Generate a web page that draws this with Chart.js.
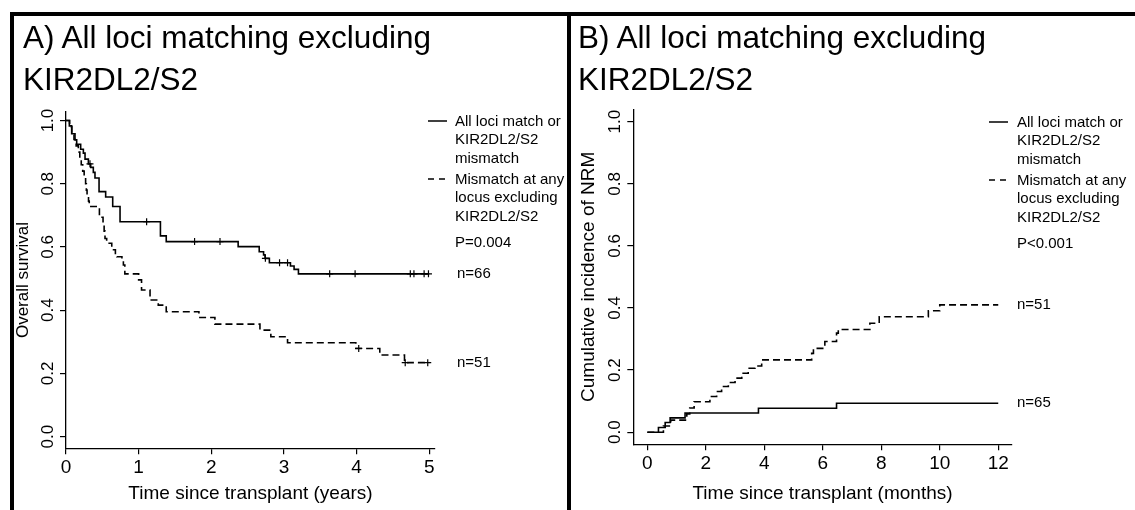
<!DOCTYPE html>
<html>
<head>
<meta charset="utf-8">
<script src="https://cdn.jsdelivr.net/npm/chart.js@4.4.0/dist/chart.umd.min.js"></script>
<style>
  body { margin: 0; background: #fff; width: 1135px; height: 510px; position: relative; overflow: hidden;
         font-family: "Liberation Sans", Arial, sans-serif; }
  .panel { position: absolute; top: 0; height: 510px; }
  #panelA { left: 0; width: 568px; }
  #panelB { left: 568px; width: 567px; }
  .title { position: absolute; font-size: 31.5px; line-height: 42px; color: #000; white-space: nowrap; }
  .rule { position: absolute; background: #000; }
</style>
</head>
<body>
<div class="panel" id="panelA"><canvas id="chartA" width="568" height="510"></canvas></div>
<div class="panel" id="panelB"><canvas id="chartB" width="567" height="510"></canvas></div>
<div class="rule" style="left:10px; top:12px; width:1125px; height:4px;"></div>
<div class="rule" style="left:10px; top:12px; width:4px; height:498px;"></div>
<div class="rule" style="left:567px; top:12px; width:4px; height:498px;"></div>
<div class="title" style="left:23px; top:16px;">A) All loci matching excluding<br>KIR2DL2/S2</div>
<div class="title" style="left:578px; top:16px;">B) All loci matching excluding<br>KIR2DL2/S2</div>
<script>
const FONT = '"Liberation Sans", Arial, sans-serif';

// tick labels
const yearTicks = [0, 1, 2, 3, 4, 5];
const monthTicks = [0, 2, 4, 6, 8, 10, 12];
const probTicks = [0, 0.2, 0.4, 0.6, 0.8, 1.0];

// A) overall survival, all loci match or KIR2DL2/S2 mismatch (n=66)
const osMatchTime = [0, 0.046, 0.078, 0.124, 0.147, 0.202, 0.239, 0.262, 0.308, 0.340, 0.376, 0.399, 0.455,
  0.546, 0.643, 0.744, 1.30, 1.38, 2.37, 2.66, 2.72, 2.74, 2.80, 3.09, 3.14, 3.20, 5.0];
const osMatchSurv = [1.0, 0.983, 0.958, 0.939, 0.925, 0.909, 0.897, 0.878, 0.863, 0.852, 0.836, 0.818, 0.775,
  0.758, 0.728, 0.680, 0.635, 0.617, 0.601, 0.585, 0.575, 0.564, 0.550, 0.540, 0.529, 0.515, 0.515];
const osMatchCensored = [0.33, 1.11, 1.77, 2.12, 2.745, 2.94, 3.05, 3.63, 3.98, 4.74, 4.79, 4.93, 4.99];

// A) overall survival, mismatch at any locus excluding KIR2DL2/S2 (n=51)
const osMisTime = [0, 0.05, 0.08, 0.11, 0.14, 0.17, 0.19, 0.21, 0.23, 0.25, 0.27, 0.28, 0.29, 0.31, 0.32,
  0.46, 0.51, 0.525, 0.537, 0.56, 0.63, 0.68, 0.70, 0.77, 0.79, 0.81, 1.0, 1.04, 1.157, 1.27, 1.38, 1.83,
  2.05, 2.67, 2.82, 3.05, 3.99, 4.32, 4.66, 5.0];
const osMisSurv = [1.0, 0.98, 0.96, 0.94, 0.92, 0.90, 0.88, 0.86, 0.84, 0.82, 0.80, 0.78, 0.76, 0.745, 0.728,
  0.694, 0.67, 0.65, 0.627, 0.612, 0.591, 0.575, 0.569, 0.559, 0.543, 0.515, 0.496, 0.464, 0.432, 0.416, 0.395, 0.377,
  0.356, 0.337, 0.316, 0.297, 0.279, 0.258, 0.234, 0.234];
const osMisCensored = [4.03, 4.67, 4.98];

// B) cumulative incidence of NRM (months)
const nrmMatchTime = [0, 0.38, 0.61, 0.78, 1.29, 3.80, 6.47, 12];
const nrmMatchInc = [0, 0.015, 0.031, 0.046, 0.062, 0.077, 0.093, 0.093];
const nrmMisTime = [0, 0.55, 0.8, 1.35, 1.45, 1.6, 2.14, 2.37, 2.54, 2.77, 3.0, 3.23, 3.45, 3.68, 3.91,
  5.62, 5.68, 6.07, 6.47, 6.53, 7.61, 7.93, 9.61, 10.0, 12];
const nrmMisInc = [0, 0.02, 0.039, 0.059, 0.078, 0.098, 0.115, 0.131, 0.147, 0.160, 0.174, 0.190, 0.206, 0.213, 0.233,
  0.254, 0.270, 0.292, 0.319, 0.331, 0.351, 0.372, 0.391, 0.410, 0.410];

const legendLines = [
  ["All loci match or", "KIR2DL2/S2", "mismatch"],
  ["Mismatch at any", "locus excluding", "KIR2DL2/S2"]
];

function pairs(xs, ys) {
  return xs.map((x, i) => ({ x: x, y: ys[i] }));
}

// value of a step curve at time t
function stepAt(xs, ys, t) {
  let v = ys[0];
  for (let i = 0; i < xs.length; i++) if (xs[i] <= t) v = ys[i];
  return v;
}

function censorPoints(xs, ys, times) {
  return times.map(t => ({ x: t, y: stepAt(xs, ys, t) }));
}

// legend, p value and n labels drawn next to the plot
const notesPlugin = {
  id: 'notes',
  afterDraw(chart, args, o) {
    const ctx = chart.ctx;
    const ys = chart.scales.y;
    ctx.save();
    ctx.fillStyle = '#000';
    ctx.strokeStyle = '#000';
    ctx.lineWidth = 1.5;
    ctx.font = '15px ' + FONT;
    ctx.textBaseline = 'middle';
    ctx.textAlign = 'left';
    [o.top, o.top + 58].forEach((y0, k) => {
      ctx.setLineDash(k === 0 ? [] : [6, 5]);
      ctx.beginPath();
      ctx.moveTo(o.sampleX, y0);
      ctx.lineTo(o.sampleX + 19, y0);
      ctx.stroke();
      legendLines[k].forEach((s, j) => ctx.fillText(s, o.textX, y0 + 1 + j * 18.3));
    });
    ctx.fillText(o.p, o.textX, o.top + 122);
    o.n.forEach(item => ctx.fillText(item.label, o.nX, ys.getPixelForValue(item.value)));
    ctx.restore();
  }
};

function axisX(ticks, min, max, title, height) {
  return {
    type: 'linear', min: min, max: max,
    afterBuildTicks: s => { s.ticks = ticks.map(v => ({ value: v })); },
    afterFit: s => { s.height = height; },
    ticks: { color: '#000', font: { family: FONT, size: 19 }, padding: 2, maxRotation: 0, autoSkip: false },
    grid: { drawOnChartArea: false, drawTicks: true, tickLength: 6, color: '#000', lineWidth: 1.2 },
    border: { display: true, color: '#000', width: 1.3 },
    title: { display: true, text: title, color: '#000', font: { family: FONT, size: 19 }, padding: { top: 0, bottom: 5 } }
  };
}

function axisY(min, max, title, titleSize, width) {
  return {
    type: 'linear', min: min, max: max,
    afterBuildTicks: s => { s.ticks = probTicks.map(v => ({ value: v })); },
    afterFit: s => { s.width = width; },
    ticks: { color: '#000', font: { family: FONT, size: 17 }, padding: 0, minRotation: 90, maxRotation: 90,
             crossAlign: 'center', callback: v => v.toFixed(1) },
    grid: { drawOnChartArea: false, drawTicks: true, tickLength: 6, color: '#000', lineWidth: 1.2 },
    border: { display: true, color: '#000', width: 1.3 },
    title: { display: true, text: title, color: '#000', font: { family: FONT, size: titleSize }, padding: { top: 0, bottom: 0 } }
  };
}

function curve(data, dashed) {
  return { type: 'line', data: data, stepped: true, borderColor: '#000', borderWidth: 1.6,
           borderDash: dashed ? [7, 4] : [], pointRadius: 0, fill: false };
}

function marks(data) {
  return { type: 'scatter', data: data, pointStyle: 'cross', pointRadius: 3.5, borderColor: '#000',
           borderWidth: 1.2, backgroundColor: '#000' };
}

new Chart(document.getElementById('chartA'), {
  type: 'line',
  data: {
    datasets: [
      curve(pairs(osMatchTime, osMatchSurv), false),
      curve(pairs(osMisTime, osMisSurv), true),
      marks(censorPoints(osMatchTime, osMatchSurv, osMatchCensored)),
      marks(censorPoints(osMisTime, osMisSurv, osMisCensored))
    ]
  },
  options: {
    responsive: false, animation: false,
    layout: { padding: { left: 13, right: 133, top: 111.7, bottom: 0 } },
    scales: {
      x: axisX(yearTicks, 0, 5.08, 'Time since transplant (years)', 61.7),
      y: axisY(-0.037, 1.028, 'Overall survival', 17, 53)
    },
    plugins: {
      legend: { display: false }, tooltip: { enabled: false },
      notes: { top: 121, sampleX: 428, textX: 455, nX: 457, p: 'P=0.004',
               n: [{ label: 'n=66', value: osMatchSurv[osMatchSurv.length - 1] },
                   { label: 'n=51', value: osMisSurv[osMisSurv.length - 1] }] }
    }
  },
  plugins: [notesPlugin]
});

new Chart(document.getElementById('chartB'), {
  type: 'line',
  data: {
    datasets: [
      curve(pairs(nrmMatchTime, nrmMatchInc), false),
      curve(pairs(nrmMisTime, nrmMisInc), true)
    ]
  },
  options: {
    responsive: false, animation: false,
    layout: { padding: { left: 9, right: 123.3, top: 109.3, bottom: 0 } },
    scales: {
      x: axisX(monthTicks, -0.48, 12.46, 'Time since transplant (months)', 65.7),
      y: axisY(-0.039, 1.04, 'Cumulative incidence of NRM', 19, 56.3)
    },
    plugins: {
      legend: { display: false }, tooltip: { enabled: false },
      notes: { top: 122, sampleX: 421, textX: 449, nX: 449, p: 'P<0.001',
               n: [{ label: 'n=51', value: nrmMisInc[nrmMisInc.length - 1] },
                   { label: 'n=65', value: nrmMatchInc[nrmMatchInc.length - 1] }] }
    }
  },
  plugins: [notesPlugin]
});
</script>
</body>
</html>
